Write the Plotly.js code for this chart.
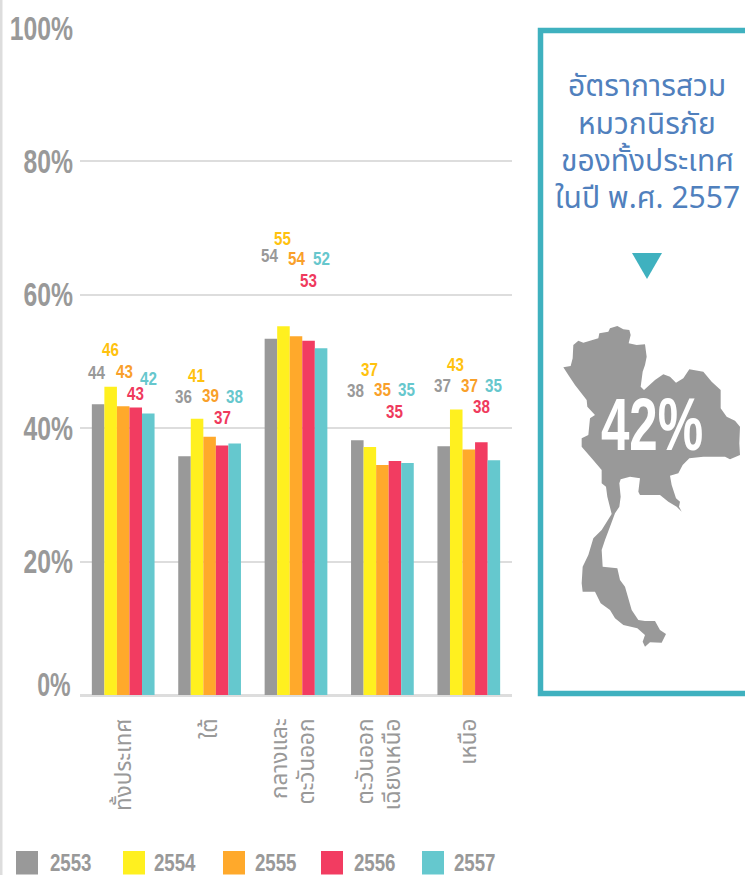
<!DOCTYPE html>
<html><head><meta charset="utf-8">
<script src="https://cdn.plot.ly/plotly-3.0.1.min.js"></script>
<style>html,body{margin:0;padding:0;background:#fff}#c{width:745px;height:875px}</style></head>
<body><div id="c"></div>
<script>
var categories = ['ทั้งประเทศ','ใต้','กลางและ<br>ตะวันออก','ตะวันออก<br>เฉียงเหนือ','เหนือ'];
var years = ['2553','2554','2555','2556','2557'];
var v2553 = [43.6,35.8,53.4,38.2,37.3];
var v2554 = [46.2,41.4,55.3,37.2,42.8];
var v2555 = [43.3,38.7,53.8,34.5,36.8];
var v2556 = [43.1,37.4,53.1,35.1,37.9];
var v2557 = [42.2,37.7,52.0,34.8,35.2];
var l2553 = ['44','36','54','38','37'];
var l2554 = ['46','41','55','37','43'];
var l2555 = ['43','39','54','35','37'];
var l2556 = ['43','37','53','35','38'];
var l2557 = ['42','38','52','35','35'];
var yTicks = [0,20,40,60,80,100];
var panelLines = ['อัตราการสวม','หมวกนิรภัย','ของทั้งประเทศ','ในปี พ.ศ. 2557'];
var panelValue = '42%';

// styles and placement
var W = 745, H = 875, L = 80, R = 512, T = 28, B = 695;
var GRAY = '#999999';
var barColors = ['#999999','#fff01f','#ffa92b','#f23c61','#65c8ce'];
var labelColors = ['#999999','#ffc20e','#f9a02a','#ef3a5d','#66c7cd'];
var values = [v2553,v2554,v2555,v2556,v2557];
var labels = [l2553,l2554,l2555,l2556,l2557];
var SANS = '"Liberation Sans",sans-serif';
var THAI = '"Noto Sans","Noto Sans Thai","DejaVu Sans",sans-serif';
var labelXShift = [-26.5,-13,1,12.5,25];
var labelLift = [
  [32,37,35,14,35],
  [60,43,41,28,47],
  [83,88,78,60,90],
  [50,77,75,49,73],
  [61,45,64,36,75]
];
var legendSwatchX = [16,123,223,321,422];
var legendTextX = [70.5,174.7,275.5,374,474];
var mapZoom = [[100,172],[122,168],[128,145],[130,105],[145,92],[160,98],[205,85],[208,70],[235,65],[240,55],[262,48],[280,58],[298,60],[302,75],[296,100],[320,105],[345,103],[350,140],[345,165],[338,185],[332,230],[342,240],[375,210],[400,193],[420,200],[438,218],[460,205],[478,178],[520,185],[545,215],[572,240],[572,295],[590,320],[615,332],[630,350],[628,400],[630,435],[600,448],[585,440],[520,440],[478,445],[458,465],[445,490],[420,497],[425,525],[438,565],[450,575],[447,590],[455,605],[440,590],[415,575],[390,555],[330,555],[325,545],[330,505],[300,500],[272,508],[268,520],[272,560],[268,590],[255,610],[240,650],[225,690],[215,720],[218,770],[262,775],[270,810],[285,830],[305,900],[325,930],[345,933],[375,933],[390,960],[408,972],[395,998],[360,997],[345,1010],[338,995],[345,975],[322,955],[280,945],[255,925],[240,900],[212,880],[195,845],[170,845],[158,845],[155,820],[158,770],[175,735],[190,685],[215,660],[245,612],[232,560],[228,530],[215,520],[215,480],[185,445],[155,410],[155,385],[175,375],[180,325],[195,315],[172,290],[170,270],[135,225],[115,195]];

function px(x){return (x-L)/(R-L);}
function py(y){return (B-y)/(B-T);}
function pathOf(pts){return 'M'+pts.map(function(p){return px(p[0]).toFixed(5)+','+py(p[1]).toFixed(5);}).join('L')+'Z';}
function rect(x0,y0,x1,y1,c){return {type:'rect',xref:'paper',yref:'paper',x0:px(x0),x1:px(x1),y0:py(y1),y1:py(y0),fillcolor:c,line:{width:0}};}

var idx = [0,1,2,3,4];
var traces = years.map(function(y,s){
  return {type:'bar',name:y,x:idx,y:values[s],marker:{color:barColors[s],line:{width:0}},hoverinfo:'name+y'};
});

var shapes = [
  rect(0,0,2.5,H,'#dddddd'),
  {type:'rect',xref:'paper',yref:'paper',x0:px(540.5),x1:px(770),y0:py(693.5),y1:py(30.5),fillcolor:'rgba(0,0,0,0)',line:{color:'#3fb1bf',width:5.5}},
  {type:'path',xref:'paper',yref:'paper',path:pathOf([[632,253],[662,253],[647,279]]),fillcolor:'#3fb1bf',line:{width:0}},
  {type:'path',xref:'paper',yref:'paper',path:pathOf(mapZoom.map(function(p){return [530+p[0]/3,310+p[1]/3];})),fillcolor:'#999999',line:{width:0}}
];
var ann = [];
function bold(size,color){return {family:SANS,size:size,color:color,weight:700};}
years.forEach(function(y,s){
  shapes.push(rect(legendSwatchX[s],851,legendSwatchX[s]+22,874.5,barColors[s]));
  ann.push({xref:'paper',yref:'paper',x:px(legendTextX[s]),y:py(862.5),xanchor:'center',yanchor:'middle',showarrow:false,text:y,font:bold(24,GRAY),name:'n0.78'});
  idx.forEach(function(g){
    ann.push({xref:'x',yref:'y',x:g,y:values[s][g],xshift:labelXShift[s],yshift:labelLift[g][s],xanchor:'center',yanchor:'middle',showarrow:false,text:labels[s][g],font:bold(19,labelColors[s]),name:'n0.8'});
  });
});
panelLines.forEach(function(t,i){
  ann.push({xref:'paper',yref:'paper',x:px(647),y:py(85+37.3*i),xanchor:'center',yanchor:'middle',showarrow:false,text:t,font:{family:THAI,size:30,color:'#5080bd'}});
});
ann.push({xref:'paper',yref:'paper',x:px(652),y:py(424),xanchor:'center',yanchor:'middle',showarrow:false,text:panelValue,font:bold(74,'#ffffff'),name:'n0.69'});
ann.push({xref:'paper',yref:'y',x:px(73),y:0,yshift:11,xshift:-19,xanchor:'center',yanchor:'middle',showarrow:false,text:'0%',font:bold(33,GRAY),name:'n0.7'});

var layout = {
  width:W,height:H,
  margin:{l:L,r:W-R,t:T,b:H-B,pad:0},
  paper_bgcolor:'#fff',plot_bgcolor:'#fff',
  barmode:'group',bargap:0.274,bargroupgap:0,
  showlegend:false,
  xaxis:{type:'linear',range:[-0.5,4.5],tickmode:'array',tickvals:idx,ticktext:categories,tickangle:-90,
    showgrid:false,zeroline:false,showline:false,ticks:'',ticklabelstandoff:18,
    tickfont:{family:THAI,size:22.5,color:GRAY}},
  yaxis:{range:[0,100],tickmode:'array',tickvals:yTicks,
    ticktext:yTicks.map(function(t){return t===0?'':t+'%';}),
    showgrid:true,gridcolor:'#dddddd',gridwidth:2,zeroline:true,zerolinecolor:'#dddddd',zerolinewidth:3,
    showline:false,ticks:'',ticklabelstandoff:6,tickfont:bold(33,GRAY)},
  shapes:shapes,annotations:ann
};
function narrow(el,f){
  var w = el.getComputedTextLength();
  if(w>0){el.setAttribute('textLength',(w*f).toFixed(1));el.setAttribute('lengthAdjust','spacingAndGlyphs');}
}
Plotly.newPlot('c',traces,layout,{displayModeBar:false,responsive:false}).then(function(gd){
  gd.querySelectorAll('.ytick text').forEach(function(t){narrow(t,0.75);});
  gd.querySelectorAll('.annotation').forEach(function(a){
    var n = ann[+a.getAttribute('data-index')];
    if(n && n.name){narrow(a.querySelector('text'),parseFloat(n.name.slice(1)));}
  });
  gd.querySelectorAll('.xtick text').forEach(function(t){
    var lines = t.querySelectorAll('tspan.line');
    if(lines.length===2){lines[0].setAttribute('dy','-0.09em');lines[1].setAttribute('dy','1.12em');}
  });
});
</script></body></html>
